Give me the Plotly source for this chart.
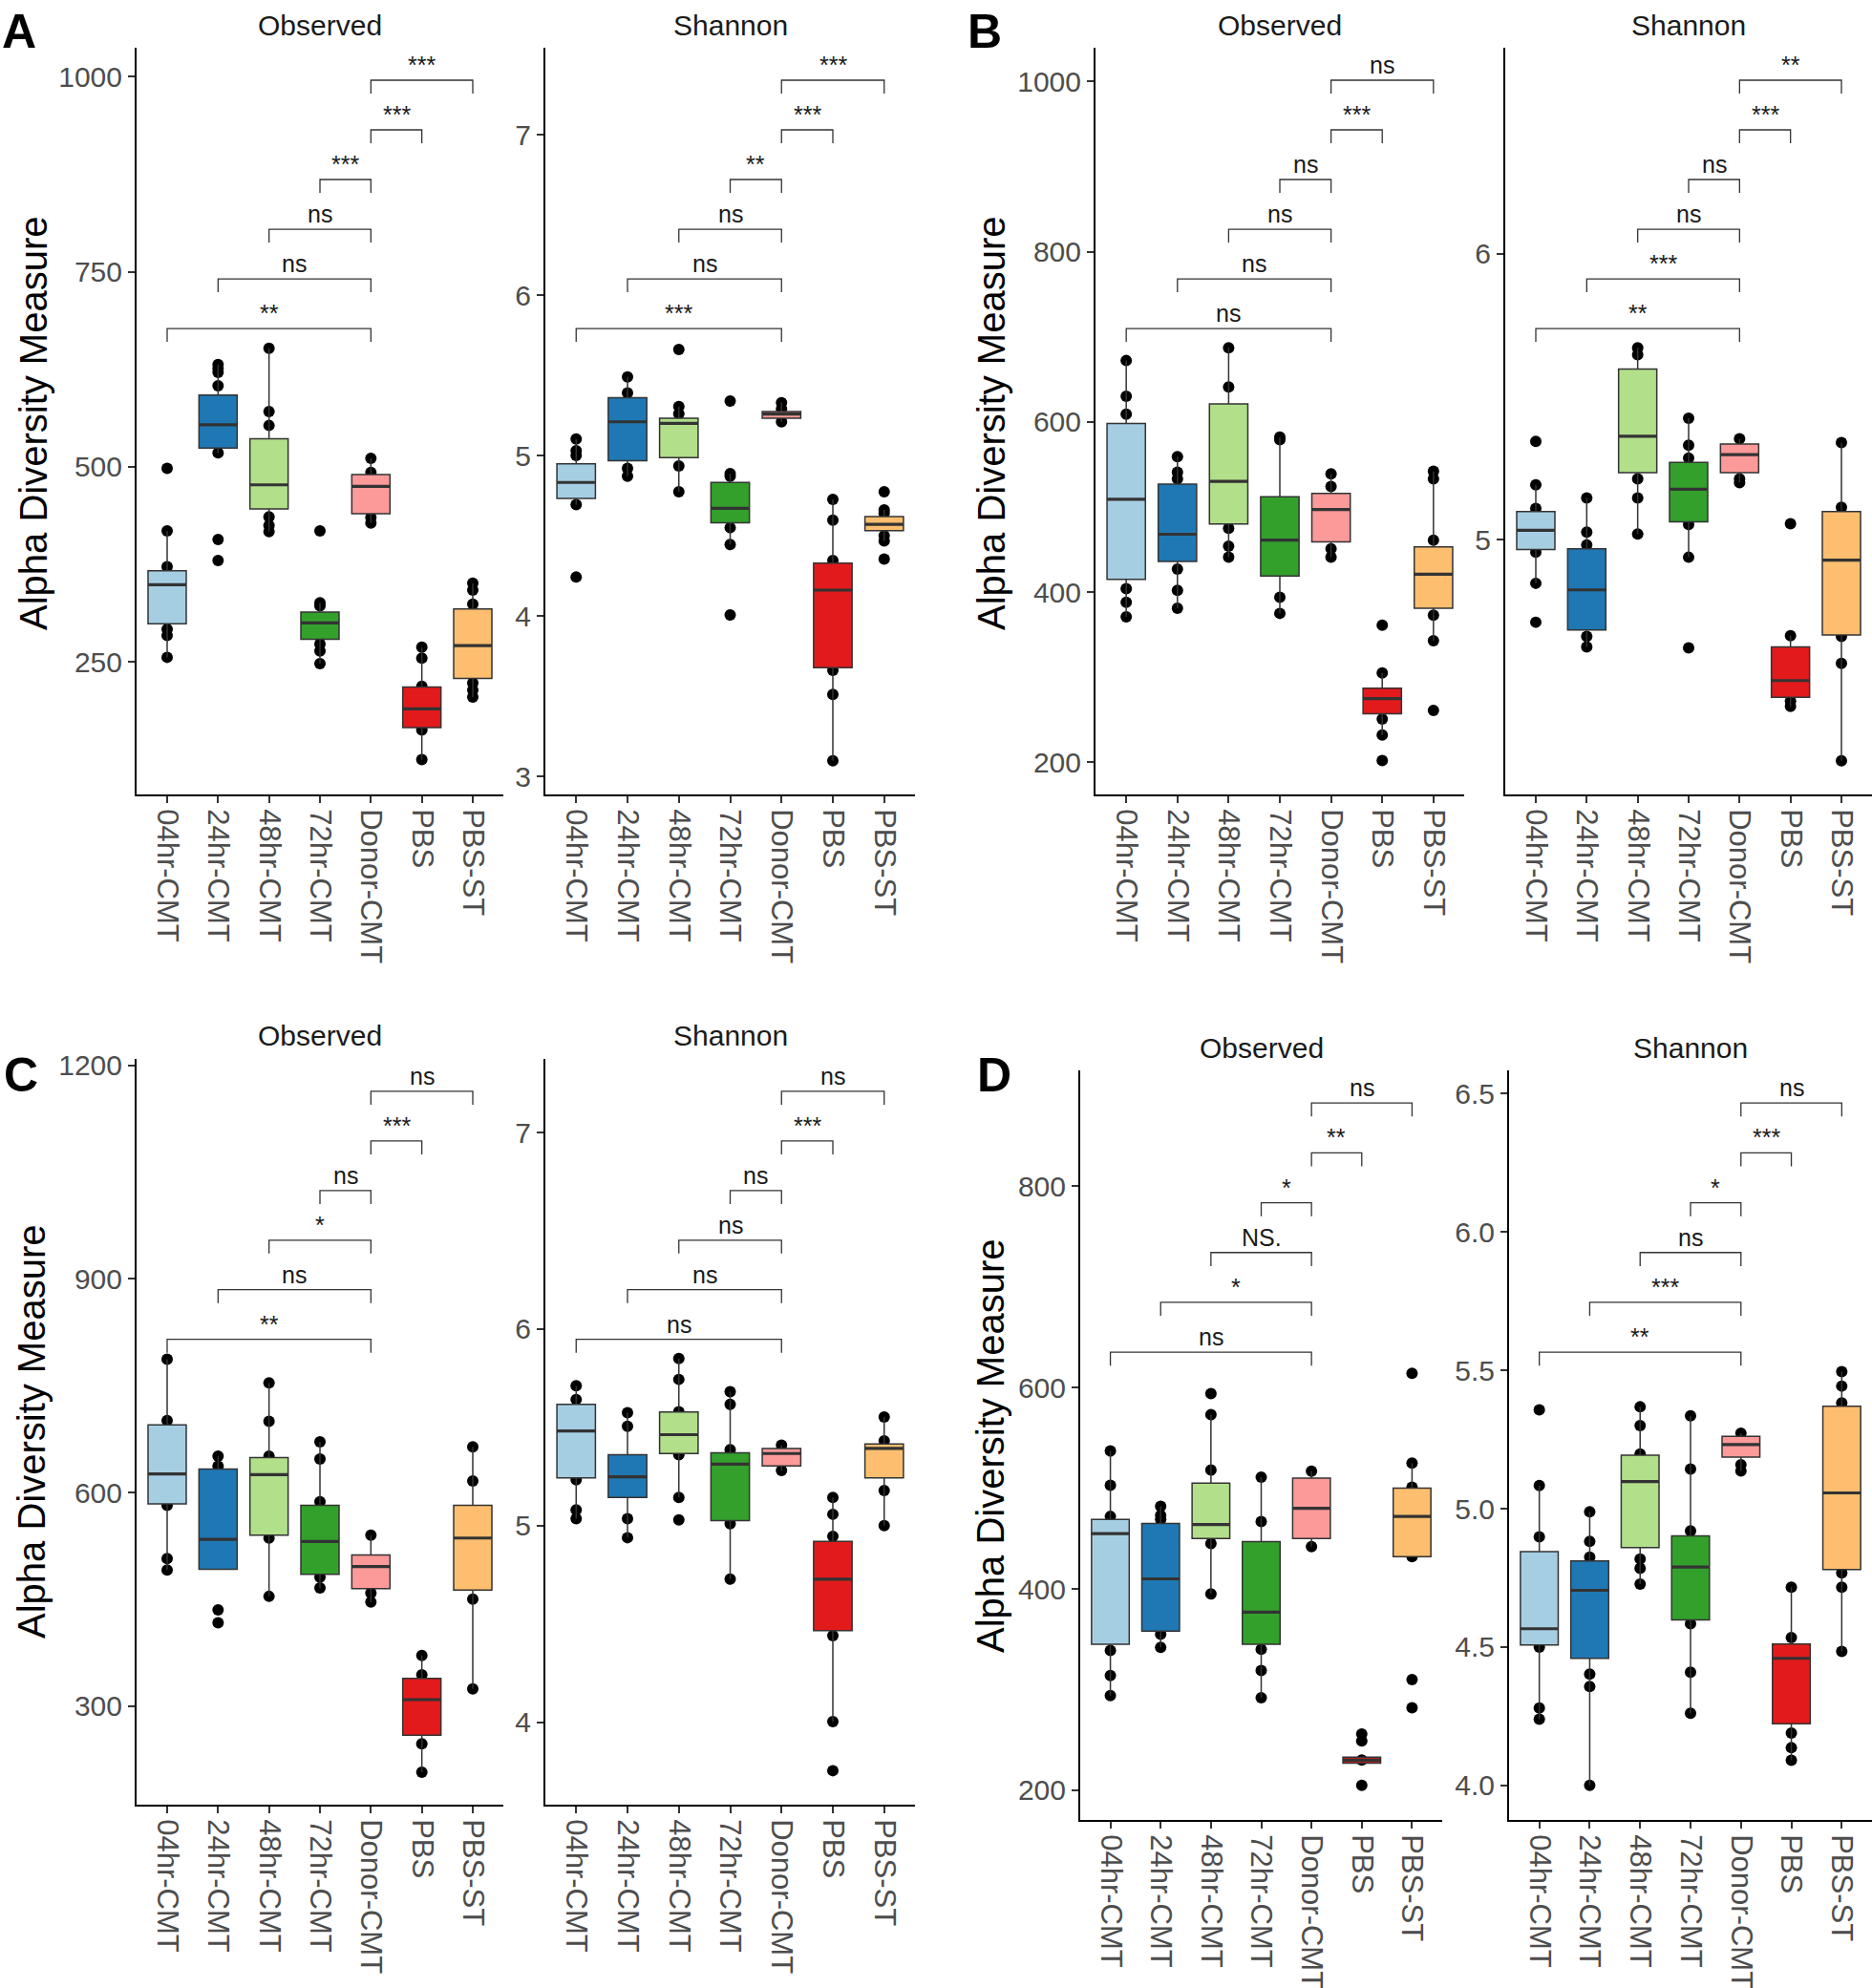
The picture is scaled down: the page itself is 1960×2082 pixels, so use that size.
import plotly.graph_objects as go

W, H = 1960, 2082
categories = ["04hr-CMT", "24hr-CMT", "48hr-CMT", "72hr-CMT", "Donor-CMT", "PBS", "PBS-ST"]
colors = ["#A6CEE3", "#1F78B4", "#B2DF8A", "#33A02C", "#FB9A99", "#E31A1C", "#FDBF6F"]
comparisons = [(0, 4), (1, 4), (2, 4), (3, 4), (4, 5), (4, 6)]

# ---------------- Panel A ----------------
a_obs_q1 = [299, 524, 446, 279, 440, 166, 229]
a_obs_median = [349, 554, 477, 300, 475, 190, 271]
a_obs_q3 = [367, 592, 536, 314, 490, 218, 318]
a_obs_lower = [256, 518, 417, 248, 428, 125, 205]
a_obs_upper = [418, 631, 652, 326, 511, 269, 351]
a_obs_points = [[498, 418, 372, 292, 284, 256], [631, 626, 621, 604, 518, 407, 380],
                [652, 571, 553, 436, 425, 417], [418, 326, 322, 273, 264, 248],
                [511, 493, 435, 428], [269, 255, 219, 163, 125], [351, 342, 324, 223, 214, 205]]
a_obs_signif = ["**", "ns", "ns", "***", "***", "***"]

a_sh_q1 = [4.732, 4.968, 4.987, 4.581, 5.232, 3.677, 4.532]
a_sh_median = [4.832, 5.21, 5.2, 4.671, 5.258, 4.161, 4.571]
a_sh_q3 = [4.948, 5.361, 5.232, 4.832, 5.274, 4.329, 4.619]
a_sh_lower = [4.694, 4.871, 4.774, 4.445, 5.21, 3.097, 4.468]
a_sh_upper = [5.103, 5.49, 5.306, 4.887, 5.329, 4.726, 4.661]
a_sh_points = [[5.103, 5.03, 5.0, 4.694, 4.242], [5.49, 5.39, 4.92, 4.871],
               [5.661, 5.306, 5.26, 4.935, 4.774], [5.339, 4.887, 4.87, 4.55, 4.445, 4.006],
               [5.329, 5.29, 5.21], [4.726, 4.597, 4.345, 3.661, 3.51, 3.097],
               [4.774, 4.661, 4.64, 4.5, 4.468, 4.355]]
a_sh_signif = ["***", "ns", "ns", "**", "***", "***"]

# ---------------- Panel B ----------------
b_obs_q1 = [415, 436, 480, 419, 459, 257, 381]
b_obs_median = [509, 468, 530, 461, 497, 275, 421]
b_obs_q3 = [598, 527, 621, 512, 516, 287, 453]
b_obs_lower = [371, 381, 441, 375, 441, 232, 343]
b_obs_upper = [672, 559, 687, 582, 539, 305, 542]
b_obs_points = [[672, 630, 609, 404, 388, 371], [559, 541, 533, 427, 402, 381],
                [687, 641, 475, 454, 441], [582, 579, 394, 375], [539, 524, 451, 441],
                [361, 305, 251, 232, 202], [542, 533, 461, 373, 343, 261]]
b_obs_signif = ["ns", "ns", "ns", "ns", "***", "ns"]

b_sh_q1 = [4.966, 4.685, 5.235, 5.063, 5.235, 4.45, 4.667]
b_sh_median = [5.033, 4.825, 5.362, 5.177, 5.298, 4.508, 4.929]
b_sh_q3 = [5.099, 4.969, 5.597, 5.271, 5.335, 4.626, 5.099]
b_sh_lower = [4.848, 4.626, 5.02, 4.939, 5.2, 4.418, 4.228]
b_sh_upper = [5.192, 5.146, 5.671, 5.425, 5.353, 4.665, 5.34]
b_sh_points = [[5.344, 5.192, 5.11, 4.957, 4.848, 4.712], [5.146, 5.027, 4.982, 4.662, 4.626],
               [5.671, 5.647, 5.213, 5.146, 5.02], [5.425, 5.331, 5.286, 5.054, 4.939, 4.622],
               [5.353, 5.213, 5.2], [5.056, 4.665, 4.436, 4.418], [5.34, 5.114, 4.662, 4.568, 4.228]]
b_sh_signif = ["**", "***", "ns", "ns", "***", "**"]

# ---------------- Panel C ----------------
c_obs_q1 = [584, 492, 540, 485, 465, 259, 463]
c_obs_median = [626, 534, 625, 531, 496, 309, 536]
c_obs_q3 = [695, 633, 649, 582, 512, 339, 582]
c_obs_lower = [491, 492, 454, 466, 446, 207, 324]
c_obs_upper = [787, 651, 754, 671, 540, 371, 664]
c_obs_points = [[787, 701, 582, 507, 491], [651, 637, 435, 417], [754, 700, 651, 536, 454],
                [671, 647, 587, 481, 466], [540, 459, 446], [371, 344, 247, 207], [664, 616, 450, 324]]
c_obs_signif = ["**", "ns", "*", "ns", "***", "ns"]

c_sh_q1 = [5.243, 5.144, 5.367, 5.026, 5.304, 4.466, 5.243]
c_sh_median = [5.482, 5.249, 5.463, 5.313, 5.367, 4.728, 5.393]
c_sh_q3 = [5.617, 5.361, 5.578, 5.371, 5.393, 4.92, 5.415]
c_sh_lower = [5.035, 4.939, 5.144, 4.728, 5.281, 4.003, 5.0]
c_sh_upper = [5.712, 5.575, 5.85, 5.681, 5.409, 5.144, 5.553]
c_sh_points = [[5.712, 5.642, 5.233, 5.08, 5.035], [5.575, 5.505, 5.035, 4.939],
               [5.85, 5.744, 5.58, 5.361, 5.144, 5.03], [5.681, 5.617, 5.387, 5.01, 4.728],
               [5.409, 5.281], [5.144, 5.058, 4.946, 4.441, 4.003, 3.754], [5.553, 5.431, 5.179, 5.0]]
c_sh_signif = ["ns", "ns", "ns", "ns", "***", "ns"]

# ---------------- Panel D ----------------
d_obs_q1 = [345, 358, 450, 345, 450, 227, 432]
d_obs_median = [455, 410, 464, 377, 480, 230, 472]
d_obs_q3 = [469, 465, 505, 447, 510, 233, 500]
d_obs_lower = [294, 342, 395, 292, 442, 227, 432]
d_obs_upper = [537, 482, 573, 511, 517, 233, 525]
d_obs_points = [[537, 503, 472, 339, 314, 294], [482, 473, 469, 355, 342], [594, 573, 518, 445, 395],
                [511, 467, 340, 319, 292], [517, 442], [256, 249, 230, 205], [614, 525, 501, 432, 310, 282]]
d_obs_signif = ["ns", "*", "NS.", "*", "**", "ns"]

d_sh_q1 = [4.507, 4.459, 4.859, 4.598, 5.186, 4.223, 4.78]
d_sh_median = [4.566, 4.705, 5.098, 4.789, 5.232, 4.459, 5.057]
d_sh_q3 = [4.845, 4.811, 5.193, 4.902, 5.261, 4.511, 5.37]
d_sh_lower = [4.239, 4.0, 4.727, 4.261, 5.136, 4.091, 4.484]
d_sh_upper = [5.084, 4.989, 5.368, 5.336, 5.273, 4.716, 5.495]
d_sh_points = [[5.357, 5.084, 4.898, 4.5, 4.28, 4.239], [4.989, 4.882, 4.825, 4.402, 4.357, 4.0],
               [5.368, 5.3, 5.198, 4.818, 4.784, 4.727], [5.336, 5.143, 4.92, 4.584, 4.409, 4.261],
               [5.273, 5.159, 5.136], [4.716, 4.534, 4.189, 4.136, 4.091],
               [5.495, 5.443, 5.382, 4.768, 4.716, 4.484]]
d_sh_signif = ["**", "***", "ns", "*", "***", "ns"]

# ---------------- layout geometry (pixels) ----------------
SANS = "Liberation Sans, Arial, Helvetica, sans-serif"

panels = [
    dict(stats=(a_obs_q1, a_obs_median, a_obs_q3, a_obs_lower, a_obs_upper), pts=a_obs_points, sig=a_obs_signif,
         box=(143, 527, 50, 832), yr=[80.3, 1037], ticks=[250, 500, 750, 1000], fmt="", strip="Observed", sy=26),
    dict(stats=(a_sh_q1, a_sh_median, a_sh_q3, a_sh_lower, a_sh_upper), pts=a_sh_points, sig=a_sh_signif,
         box=(571, 958, 50, 832), yr=[2.887, 7.542], ticks=[3, 4, 5, 6, 7], fmt="", strip="Shannon", sy=26),
    dict(stats=(b_obs_q1, b_obs_median, b_obs_q3, b_obs_lower, b_obs_upper), pts=b_obs_points, sig=b_obs_signif,
         box=(1147, 1533, 50, 832), yr=[162.3, 1039.5], ticks=[200, 400, 600, 800, 1000], fmt="", strip="Observed", sy=26),
    dict(stats=(b_sh_q1, b_sh_median, b_sh_q3, b_sh_lower, b_sh_upper), pts=b_sh_points, sig=b_sh_signif,
         box=(1576, 1960, 50, 832), yr=[4.11, 6.72], ticks=[5, 6], fmt="", strip="Shannon", sy=26),
    dict(stats=(c_obs_q1, c_obs_median, c_obs_q3, c_obs_lower, c_obs_upper), pts=c_obs_points, sig=c_obs_signif,
         box=(143, 527, 1109, 1890), yr=[161.5, 1208.8], ticks=[300, 600, 900, 1200], fmt="", strip="Observed", sy=1084),
    dict(stats=(c_sh_q1, c_sh_median, c_sh_q3, c_sh_lower, c_sh_upper), pts=c_sh_points, sig=c_sh_signif,
         box=(571, 958, 1109, 1890), yr=[3.581, 7.374], ticks=[4, 5, 6, 7], fmt="", strip="Shannon", sy=1084),
    dict(stats=(d_obs_q1, d_obs_median, d_obs_q3, d_obs_lower, d_obs_upper), pts=d_obs_points, sig=d_obs_signif,
         box=(1131, 1510, 1121, 1906), yr=[170.6, 914.9], ticks=[200, 400, 600, 800], fmt="", strip="Observed", sy=1097),
    dict(stats=(d_sh_q1, d_sh_median, d_sh_q3, d_sh_lower, d_sh_upper), pts=d_sh_points, sig=d_sh_signif,
         box=(1580, 1960, 1121, 1906), yr=[3.875, 6.584], ticks=[4.0, 4.5, 5.0, 5.5, 6.0, 6.5], fmt=".1f", strip="Shannon", sy=1097),
]

fig = go.Figure()
layout = dict(width=W, height=H, margin=dict(l=0, r=0, t=0, b=0, autoexpand=False), plot_bgcolor="white",
              paper_bgcolor="white", showlegend=False, boxmode="overlay")
shapes, annotations = [], []

for n, p in enumerate(panels, start=1):
    xa = "x" if n == 1 else f"x{n}"
    ya = "y" if n == 1 else f"y{n}"
    q1, med, q3, lo, hi = p["stats"]
    # raw points first (drawn underneath the boxes, as in the original)
    for i, pts in enumerate(p["pts"]):
        fig.add_trace(go.Box(x=[i] * len(pts), y=pts, boxpoints="all", jitter=0, pointpos=0, width=0.75,
                             fillcolor="rgba(0,0,0,0)", line=dict(width=0, color="rgba(0,0,0,0)"),
                             marker=dict(color="black", size=12), xaxis=xa, yaxis=ya, hoverinfo="y"))
    for i in range(len(categories)):
        fig.add_trace(go.Box(x=[i], q1=[q1[i]], median=[med[i]], q3=[q3[i]], lowerfence=[lo[i]],
                             upperfence=[hi[i]], width=0.75, fillcolor=colors[i], whiskerwidth=0,
                             line=dict(color="#333333", width=1.5), boxpoints=False, name=categories[i],
                             xaxis=xa, yaxis=ya))
        # emphasised (thicker) median bar, as drawn by ggplot
        fig.add_trace(go.Box(x=[i], q1=[med[i]], median=[med[i]], q3=[med[i]], lowerfence=[med[i]],
                             upperfence=[med[i]], width=0.75, fillcolor="rgba(0,0,0,0)", whiskerwidth=0,
                             line=dict(color="#333333", width=3.2), boxpoints=False, name=categories[i],
                             xaxis=xa, yaxis=ya, hoverinfo="skip"))
    x0, x1, y0, y1 = p["box"]
    xkey = "xaxis" if n == 1 else f"xaxis{n}"
    ykey = "yaxis" if n == 1 else f"yaxis{n}"
    layout[xkey] = dict(domain=[x0 / W, x1 / W], anchor=ya, range=[-0.6, 6.6], tickmode="array",
                        tickvals=list(range(len(categories))), ticktext=categories, tickangle=90,
                        showline=True, linecolor="black", linewidth=2, ticks="outside", ticklen=7,
                        tickwidth=1.5, tickcolor="#333333", automargin=False,
                        tickfont=dict(family=SANS, size=31, color="#4D4D4D"),
                        showgrid=False, zeroline=False, fixedrange=True)
    layout[ykey] = dict(domain=[1 - y1 / H, 1 - y0 / H], anchor=xa, range=p["yr"], tickmode="array",
                        tickvals=p["ticks"], tickformat=p["fmt"], showline=True, linecolor="black",
                        linewidth=2, ticks="outside", ticklen=7, tickwidth=1.5, tickcolor="#333333",
                        automargin=False, tickfont=dict(family=SANS, size=30, color="#4D4D4D"),
                        showgrid=False, zeroline=False, fixedrange=True)
    # significance brackets
    ylo, yhi = p["yr"]
    span = yhi - ylo
    tip = 0.018 * span
    for k, ((a, b), lab) in enumerate(zip(comparisons, p["sig"])):
        yl = ylo + (0.624 + 0.0665 * k) * span
        shapes.append(dict(type="path", xref=xa, yref=ya,
                           path=f"M {a},{yl - tip} L {a},{yl} L {b},{yl} L {b},{yl - tip}",
                           line=dict(color="#333333", width=1.3)))
        annotations.append(dict(x=(a + b) / 2, y=yl, xref=xa, yref=ya, text=lab, showarrow=False,
                                yanchor="bottom", xanchor="center",
                                font=dict(family=SANS, size=25, color="#1A1A1A")))
    # strip title
    annotations.append(dict(x=(x0 + x1) / 2 / W, y=1 - p["sy"] / H, xref="paper", yref="paper",
                            text=p["strip"], showarrow=False, xanchor="center", yanchor="middle",
                            font=dict(family=SANS, size=30, color="#1A1A1A")))

# y-axis titles
for (cx, cy) in [(35, 443), (1038, 443), (33, 1499), (1037, 1514)]:
    annotations.append(dict(x=cx / W, y=1 - cy / H, xref="paper", yref="paper", text="Alpha Diversity Measure",
                            textangle=-90, showarrow=False, xanchor="center", yanchor="middle",
                            font=dict(family=SANS, size=40, color="black")))
# panel letters
for lab, (cx, cy) in zip(["A", "B", "C", "D"], [(20, 33), (1031, 33), (22, 1126), (1041, 1126)]):
    annotations.append(dict(x=cx / W, y=1 - cy / H, xref="paper", yref="paper", text=f"<b>{lab}</b>",
                            showarrow=False, xanchor="center", yanchor="middle",
                            font=dict(family=SANS, size=50, color="black")))

layout["shapes"] = shapes
layout["annotations"] = annotations
fig.update_layout(**layout)
fig.write_html("out.html", config={"displayModeBar": False},
               post_script="document.body.style.margin='0px';")
